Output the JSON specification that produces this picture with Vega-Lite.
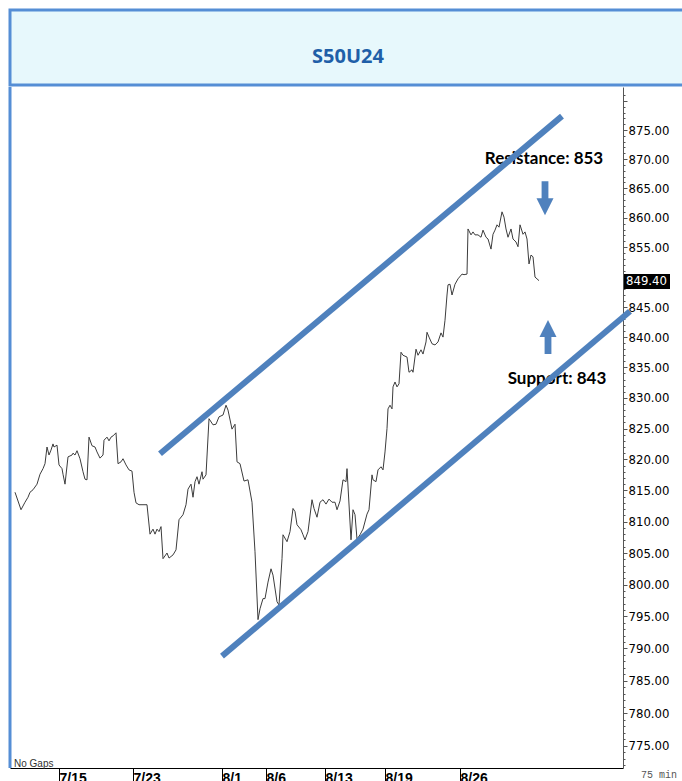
{
  "$schema": "https://vega.github.io/schema/vega-lite/v6.json",
  "padding": {"left": 8, "top": 8, "right": 0, "bottom": 0},
  "spacing": -3,
  "config": {"view": {"stroke": null}},
  "datasets": {
    "price": [
      {"bar":5,"close":814.7},{"bar":11,"close":811.9},{"bar":15,"close":813.1},{"bar":18,"close":813.9},{"bar":20,"close":814.7},{"bar":23,"close":815.1},{"bar":27,"close":816.0},{"bar":30,"close":817.6},{"bar":33,"close":818.5},{"bar":35,"close":819.3},{"bar":37,"close":822.0},{"bar":39,"close":820.7},{"bar":41,"close":821.5},{"bar":43,"close":822.5},{"bar":44,"close":822.0},{"bar":47,"close":822.3},{"bar":49,"close":819.1},{"bar":52,"close":818.5},{"bar":53,"close":817.6},{"bar":55,"close":816.0},{"bar":58,"close":820.4},{"bar":62,"close":820.7},{"bar":63,"close":821.0},{"bar":65,"close":820.7},{"bar":67,"close":821.4},{"bar":70,"close":820.1},{"bar":73,"close":818.0},{"bar":75,"close":816.8},{"bar":77,"close":816.7},{"bar":79,"close":823.6},{"bar":82,"close":822.2},{"bar":85,"close":822.0},{"bar":87,"close":821.2},{"bar":90,"close":820.2},{"bar":93,"close":820.7},{"bar":94,"close":823.1},{"bar":97,"close":823.6},{"bar":99,"close":823.0},{"bar":101,"close":823.6},{"bar":103,"close":823.8},{"bar":106,"close":824.3},{"bar":108,"close":819.3},{"bar":111,"close":819.6},{"bar":113,"close":820.1},{"bar":116,"close":819.1},{"bar":119,"close":818.3},{"bar":122,"close":818.1},{"bar":124,"close":814.7},{"bar":126,"close":813.0},{"bar":129,"close":812.7},{"bar":133,"close":812.7},{"bar":137,"close":812.7},{"bar":140,"close":808.0},{"bar":143,"close":808.8},{"bar":145,"close":808.0},{"bar":147,"close":808.8},{"bar":149,"close":808.4},{"bar":151,"close":809.2},{"bar":153,"close":804.1},{"bar":157,"close":805.0},{"bar":159,"close":804.2},{"bar":163,"close":804.7},{"bar":166,"close":805.5},{"bar":169,"close":810.3},{"bar":173,"close":811.1},{"bar":176,"close":812.7},{"bar":178,"close":815.2},{"bar":181,"close":816.0},{"bar":183,"close":813.9},{"bar":185,"close":816.4},{"bar":187,"close":817.2},{"bar":189,"close":816.0},{"bar":192,"close":818.0},{"bar":193,"close":816.8},{"bar":196,"close":817.5},{"bar":199,"close":826.6},{"bar":203,"close":825.6},{"bar":206,"close":825.7},{"bar":209,"close":826.9},{"bar":213,"close":827.2},{"bar":216,"close":828.8},{"bar":218,"close":828.0},{"bar":222,"close":824.9},{"bar":225,"close":825.7},{"bar":227,"close":819.6},{"bar":230,"close":819.3},{"bar":234,"close":816.5},{"bar":238,"close":816.7},{"bar":242,"close":813.1},{"bar":245,"close":805.2},{"bar":248,"close":794.5},{"bar":250,"close":796.2},{"bar":253,"close":797.8},{"bar":255,"close":797.8},{"bar":258,"close":800.4},{"bar":261,"close":802.5},{"bar":263,"close":801.5},{"bar":267,"close":797.3},{"bar":269,"close":796.8},{"bar":272,"close":804.1},{"bar":273,"close":807.9},{"bar":277,"close":806.8},{"bar":280,"close":808.4},{"bar":283,"close":812.1},{"bar":285,"close":811.6},{"bar":287,"close":809.5},{"bar":291,"close":808.7},{"bar":293,"close":807.9},{"bar":295,"close":807.1},{"bar":298,"close":808.4},{"bar":302,"close":813.5},{"bar":304,"close":812.1},{"bar":307,"close":810.7},{"bar":310,"close":813.1},{"bar":313,"close":813.5},{"bar":316,"close":812.8},{"bar":319,"close":813.6},{"bar":322,"close":813.1},{"bar":325,"close":813.1},{"bar":327,"close":811.9},{"bar":330,"close":813.3},{"bar":333,"close":816.7},{"bar":336,"close":816.4},{"bar":337,"close":818.5},{"bar":341,"close":807.1},{"bar":343,"close":811.9},{"bar":345,"close":811.1},{"bar":347,"close":807.2},{"bar":350,"close":807.9},{"bar":353,"close":808.8},{"bar":357,"close":811.2},{"bar":359,"close":811.9},{"bar":362,"close":817.5},{"bar":363,"close":816.7},{"bar":366,"close":816.4},{"bar":368,"close":818.3},{"bar":371,"close":818.8},{"bar":373,"close":818.3},{"bar":375,"close":821.2},{"bar":377,"close":825.0},{"bar":378,"close":828.2},{"bar":380,"close":828.8},{"bar":382,"close":828.2},{"bar":383,"close":831.8},{"bar":385,"close":832.6},{"bar":387,"close":831.8},{"bar":389,"close":832.3},{"bar":391,"close":837.5},{"bar":393,"close":837.0},{"bar":397,"close":836.7},{"bar":399,"close":834.2},{"bar":402,"close":834.6},{"bar":403,"close":834.2},{"bar":406,"close":838.0},{"bar":408,"close":837.0},{"bar":411,"close":837.9},{"bar":413,"close":837.2},{"bar":416,"close":839.2},{"bar":417,"close":840.8},{"bar":419,"close":840.0},{"bar":422,"close":838.9},{"bar":425,"close":838.7},{"bar":428,"close":839.2},{"bar":431,"close":840.7},{"bar":433,"close":840.0},{"bar":435,"close":842.8},{"bar":437,"close":847.0},{"bar":438,"close":848.7},{"bar":440,"close":848.8},{"bar":442,"close":847.0},{"bar":445,"close":848.8},{"bar":448,"close":849.7},{"bar":452,"close":850.5},{"bar":454,"close":850.4},{"bar":457,"close":850.5},{"bar":458,"close":858.1},{"bar":461,"close":857.1},{"bar":463,"close":857.6},{"bar":465,"close":857.1},{"bar":468,"close":857.1},{"bar":471,"close":856.7},{"bar":473,"close":857.9},{"bar":476,"close":856.7},{"bar":478,"close":856.4},{"bar":481,"close":854.7},{"bar":483,"close":857.2},{"bar":485,"close":857.9},{"bar":487,"close":858.8},{"bar":489,"close":858.4},{"bar":492,"close":861.0},{"bar":494,"close":860.1},{"bar":496,"close":858.1},{"bar":498,"close":856.7},{"bar":501,"close":858.1},{"bar":503,"close":856.4},{"bar":506,"close":855.9},{"bar":508,"close":855.1},{"bar":510,"close":858.8},{"bar":513,"close":857.2},{"bar":515,"close":857.6},{"bar":517,"close":856.4},{"bar":519,"close":852.2},{"bar":521,"close":853.7},{"bar":523,"close":853.4},{"bar":525,"close":850.0},{"bar":527,"close":849.7},{"bar":529,"close":849.4}
    ],
    "channels": [
      {"line":"upper","bar":150,"close":820.9},{"line":"upper","bar":552,"close":877.4},
      {"line":"lower","bar":212,"close":788.8},{"line":"lower","bar":620,"close":844.3}
    ],
    "notes": [
      {"text":"Resistance: 853","bar":534,"close":870.0},
      {"text":"Support: 843","bar":547,"close":833.1}
    ],
    "arrows": [
      {"dir":"down","bar":535,"close":863.3},
      {"dir":"up","bar":538,"close":840.0}
    ],
    "one": [{}]
  },
  "vconcat": [
    {
      "width": 680,
      "height": 75,
      "view": {"fill": "#e7f8fc", "stroke": "#558ed5", "strokeWidth": 3},
      "data": {"values": [{"label": "S50U24"}]},
      "mark": {"type": "text", "font": "Open Sans", "fontWeight": "bold", "fontSize": 20, "color": "#1f5fa8", "baseline": "middle", "dy": 9, "dx": -2},
      "encoding": {"text": {"field": "label", "type": "nominal"}}
    },
    {
      "width": 613,
      "height": 681,
      "layer": [
        {
          "data": {"name": "price"},
          "mark": {"type": "line", "color": "#3c3c3c", "strokeWidth": 1},
          "encoding": {
            "x": {
              "field": "bar", "type": "quantitative",
              "scale": {"domain": [0, 613], "nice": false, "zero": false},
              "axis": {
                "orient": "bottom", "title": null, "grid": false,
                "values": [49, 123, 212, 256, 315, 375, 450],
                "labelExpr": "datum.value == 49 ? '7/15' : datum.value == 123 ? '7/23' : datum.value == 212 ? '8/1' : datum.value == 256 ? '8/6' : datum.value == 315 ? '8/13' : datum.value == 375 ? '8/19' : datum.value == 450 ? '8/26' : ''",
                "tickSize": 16, "tickColor": "#000", "tickWidth": 1,
                "domainColor": "#000", "domainWidth": 1,
                "labelAlign": "left", "labelBaseline": "top", "labelPadding": -13, "labelDx": 3,
                "labelFont": "Liberation Sans", "labelFontSize": 14, "labelFontWeight": "bold", "labelColor": "#000",
                "labelOverlap": false, "labelFlush": false
              }
            },
            "y": {
              "field": "close", "type": "quantitative",
              "scale": {"type": "log", "domain": [771.6, 882.45], "nice": false, "zero": false},
              "axis": {
                "orient": "right", "title": null, "grid": false,
                "values": [772,773,774,775,776,777,778,779,780,781,782,783,784,785,786,787,788,789,790,791,792,793,794,795,796,797,798,799,800,801,802,803,804,805,806,807,808,809,810,811,812,813,814,815,816,817,818,819,820,821,822,823,824,825,826,827,828,829,830,831,832,833,834,835,836,837,838,839,840,841,842,843,844,845,846,847,848,849,850,851,852,853,854,855,856,857,858,859,860,861,862,863,864,865,866,867,868,869,870,871,872,873,874,875,876,877,878,879,880,881],
                "labelExpr": "(datum.value % 5 == 0 && datum.value != 850 && datum.value <= 875) ? format(datum.value, '.2f') : ''",
                "tickSize": {"condition": {"test": "datum.value % 5 == 0", "value": 4}, "value": 2},
                "tickColor": "#555", "domainColor": "#555",
                "labelPadding": 1, "labelBaseline": "middle",
                "labelFont": "DejaVu Sans Condensed", "labelFontSize": 13, "labelColor": "#000",
                "labelOverlap": false, "labelFlush": false
              }
            }
          }
        },
        {
          "data": {"name": "one"},
          "mark": {"type": "rule", "color": "#558ed5", "strokeWidth": 3},
          "encoding": {"x": {"datum": 0, "type": "quantitative"}}
        },
        {
          "data": {"name": "notes"},
          "mark": {"type": "text", "font": "Lato", "fontWeight": "bold", "fontSize": 17, "color": "#000", "align": "center", "baseline": "middle", "clip": false},
          "encoding": {
            "x": {"field": "bar", "type": "quantitative"},
            "y": {"field": "close", "type": "quantitative"},
            "text": {"field": "text", "type": "nominal"}
          }
        },
        {
          "data": {"name": "channels"},
          "mark": {"type": "line", "color": "#4f81bd", "strokeWidth": 6, "strokeCap": "butt", "clip": false},
          "encoding": {
            "x": {"field": "bar", "type": "quantitative"},
            "y": {"field": "close", "type": "quantitative"},
            "detail": {"field": "line", "type": "nominal"}
          }
        },
        {
          "data": {"name": "arrows"},
          "mark": {"type": "point", "filled": true, "opacity": 1, "color": "#4f81bd", "size": 1156, "strokeWidth": 0, "clip": false},
          "encoding": {
            "x": {"field": "bar", "type": "quantitative"},
            "y": {"field": "close", "type": "quantitative"},
            "shape": {
              "field": "dir", "type": "nominal", "legend": null,
              "scale": {"domain": ["down", "up"], "range": ["M-0.2,-1L0.2,-1L0.2,0L0.5,0L0,1L-0.5,0L-0.2,0Z", "M-0.2,1L0.2,1L0.2,0L0.5,0L0,-1L-0.5,0L-0.2,0Z"]}
            }
          }
        },
        {
          "data": {"name": "one"},
          "mark": {"type": "rect", "color": "#000", "clip": false},
          "encoding": {
            "x": {"datum": 614, "type": "quantitative"},
            "x2": {"datum": 660},
            "y": {"datum": 848.0, "type": "quantitative"},
            "y2": {"datum": 850.5}
          }
        },
        {
          "data": {"name": "one"},
          "mark": {"type": "text", "color": "#fff", "font": "DejaVu Sans Condensed", "fontSize": 13, "align": "left", "baseline": "middle", "clip": false},
          "encoding": {
            "x": {"datum": 616, "type": "quantitative"},
            "y": {"datum": 849.4, "type": "quantitative"},
            "text": {"value": "849.40"}
          }
        },
        {
          "data": {"name": "one"},
          "mark": {"type": "text", "color": "#333", "font": "Liberation Sans", "fontSize": 10, "align": "left", "baseline": "middle"},
          "encoding": {
            "x": {"datum": 4, "type": "quantitative"},
            "y": {"datum": 772.2, "type": "quantitative"},
            "text": {"value": "No Gaps"}
          }
        },
        {
          "data": {"name": "one"},
          "mark": {"type": "text", "color": "#555", "font": "Liberation Mono", "fontSize": 10, "align": "left", "baseline": "middle", "clip": false},
          "encoding": {
            "x": {"datum": 631, "type": "quantitative"},
            "y": {"datum": 770.5, "type": "quantitative"},
            "text": {"value": "75 min"}
          }
        }
      ]
    }
  ]
}
